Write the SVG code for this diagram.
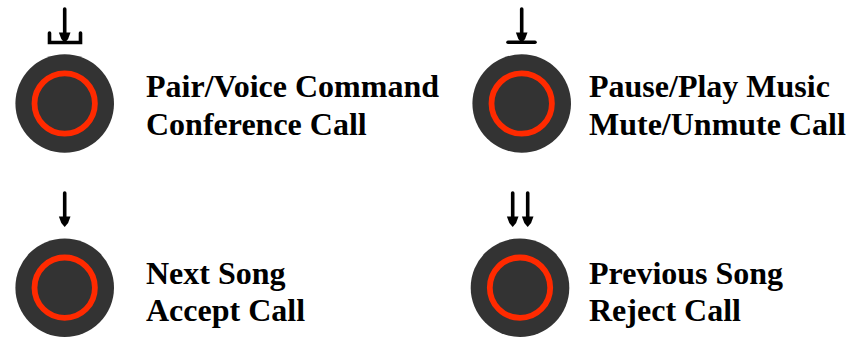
<svg xmlns="http://www.w3.org/2000/svg" width="867" height="339" viewBox="0 0 867 339">
<style>
.disc{fill:#333333}
.ring{fill:none;stroke:#ff2a00;stroke-width:5.8}
.lbl{font-family:"Liberation Serif","Times New Roman",serif;font-weight:bold;font-size:32px;fill:#000}
.shaft{stroke:#000;stroke-width:3.6;fill:none;stroke-linecap:round}
.bar{stroke:#000;stroke-width:3.6;fill:none;stroke-linecap:round;stroke-linejoin:miter}
.head{fill:#000}
</style>
<defs>
<g id="btn"><circle class="disc" r="49.3"/><circle class="ring" r="30.2"/></g>
<path id="arrow" class="head" d="M-5.8 0H5.8L3.4 6.5L0 10.5L-3.4 6.5Z"/>
</defs>
<rect width="867" height="339" fill="#fff"/>
<g id="node-pair">
<use href="#btn" x="64.7" y="103.5"/>
<path class="shaft" d="M64.7 9V34"/><use href="#arrow" x="64.7" y="32.5"/>
<path class="bar" d="M49.5 33V42.5H80.5V33"/>
<text class="lbl" x="146" y="97">Pair/Voice Command</text>
<text class="lbl" x="146" y="135">Conference Call</text>
</g>
<g id="node-pause">
<use href="#btn" x="521.7" y="103.5"/>
<path class="shaft" d="M521.7 9V34"/><use href="#arrow" x="521.7" y="32.5"/>
<path class="bar" d="M508 42.2H535"/>
<text class="lbl" x="589" y="97">Pause/Play Music</text>
<text class="lbl" x="589" y="135">Mute/Unmute Call</text>
</g>
<g id="node-next">
<use href="#btn" x="64.7" y="287.7"/>
<path class="shaft" d="M64.7 193V218"/><use href="#arrow" x="64.7" y="216.5"/>
<text class="lbl" x="146" y="284">Next Song</text>
<text class="lbl" x="146" y="321">Accept Call</text>
</g>
<g id="node-prev">
<use href="#btn" x="520" y="287.7"/>
<path class="shaft" d="M512.7 193V218M527.7 193V218"/><use href="#arrow" x="512.7" y="216.5"/><use href="#arrow" x="527.7" y="216.5"/>
<text class="lbl" x="589" y="284">Previous Song</text>
<text class="lbl" x="589" y="321">Reject Call</text>
</g>
<g id="connectors"/>
</svg>
